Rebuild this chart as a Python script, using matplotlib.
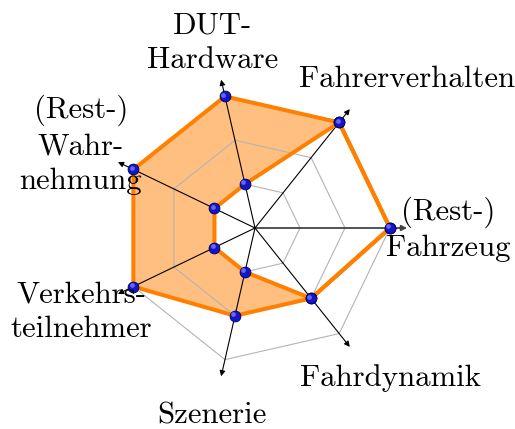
import numpy as np
import matplotlib
matplotlib.use('Agg')
import matplotlib.pyplot as plt
from matplotlib.path import Path
from matplotlib.patches import PathPatch
from matplotlib.transforms import offset_copy

# Achsen des Netzdiagramms (gegen den Uhrzeigersinn, beginnend rechts)
kategorien = ['(Rest-)\nFahrzeug', 'Fahrerverhalten', 'DUT-\nHardware',
              '(Rest-)\nWahr-\nnehmung', 'Verkehrs-\nteilnehmer', 'Szenerie',
              'Fahrdynamik']
werte_max = [3, 3, 3, 3, 3, 2, 2]
werte_min = [3, 3, 1, 1, 1, 1, 2]
gitter = [1, 2, 3]

# Lage der Beschriftungen relativ zur Pfeilspitze (Pixel)
label_offset = [(41, -1), (57, 30), (-9, 37), (-37, 17), (-37, -18), (-9, -39), (41, -31)]

n = len(kategorien)
winkel = np.arange(n) * 2 * np.pi / n
cos_w, sin_w = np.cos(winkel), np.sin(winkel)
r_pfeil = 3.38

def polygon(werte):
    w = np.asarray(werte, dtype=float)
    return w * cos_w, w * sin_w

fig = plt.figure(figsize=(5.15, 4.29), dpi=100)
ax = fig.add_axes([0, 0, 1, 1])
ax.set_xlim(-255 / 45, 260 / 45)
ax.set_ylim(-201 / 45, 228 / 45)
ax.set_aspect('equal')
ax.axis('off')

# Fläche zwischen Minimum und Maximum
xa, ya = polygon(werte_max)
xi, yi = polygon(werte_min)
verts = list(zip(xa, ya)) + [(xa[0], ya[0])] + list(zip(xi[::-1], yi[::-1])) + [(xi[-1], yi[-1])]
codes = ([Path.MOVETO] + [Path.LINETO] * (n - 1) + [Path.CLOSEPOLY]) * 2
ax.add_patch(PathPatch(Path(verts, codes), facecolor='#ffbf80', edgecolor='none', zorder=1))

# Gitter
for g in gitter:
    gx, gy = polygon([g] * n)
    ax.fill(gx, gy, facecolor='none', edgecolor='#b4b4b4', lw=0.8, zorder=2)

# Achsen mit Pfeilen
for k in range(n):
    tip = (r_pfeil * cos_w[k], r_pfeil * sin_w[k])
    farbe = '#444444' if k == 0 else 'black'
    ax.annotate('', xy=tip, xytext=(0, 0),
                arrowprops=dict(arrowstyle='-|>', color=farbe, lw=0.8 if k else 1.3,
                                mutation_scale=8, shrinkA=0, shrinkB=0), zorder=3)
    ax.annotate(kategorien[k], xy=tip, xytext=label_offset[k], textcoords='offset pixels',
                ha='center', va='center', fontsize=22.2, family='cmr10',
                linespacing=1.32, zorder=6)

# Linien
for werte in (werte_max, werte_min):
    px, py = polygon(werte)
    ax.fill(px, py, facecolor='none', edgecolor='#ff8000', lw=2.9,
            joinstyle='miter', zorder=4)

# Kugeln
for werte in (werte_max, werte_min):
    px, py = polygon(werte)
    ax.plot(px, py, 'o', ms=7.8, mfc='#1414c8', mec='#000050', mew=0.6, zorder=5)
    hl = offset_copy(ax.transData, fig=fig, x=-1.2, y=1.2, units='points')
    ax.plot(px, py, 'o', ms=3.4, mfc='#6f6fff', mec='none', alpha=0.9, transform=hl, zorder=5)

fig.savefig('out.png', dpi=100)
